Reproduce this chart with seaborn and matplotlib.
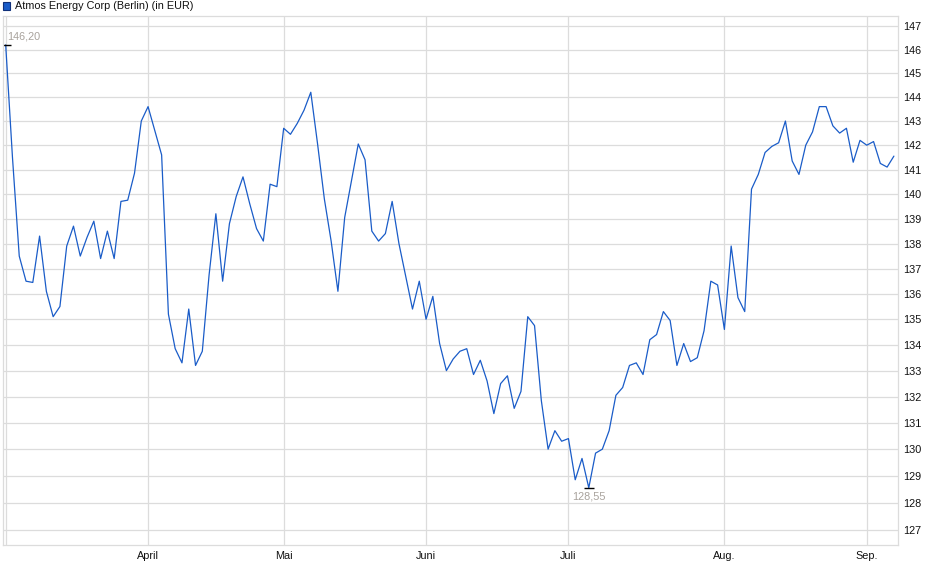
import numpy as np
import pandas as pd
import matplotlib
matplotlib.use("Agg")
import matplotlib.pyplot as plt
from matplotlib.patches import Rectangle
from matplotlib.ticker import NullLocator, FixedLocator
import seaborn as sbn

# Daily closing prices (EUR), Börse Berlin, 3 Mar - 5 Sep 2025
prices = [
    146.20, 141.5, 137.5, 136.5, 136.45, 138.3, 136.1, 135.1, 135.5, 137.9,
    138.7, 137.5, 138.25, 138.9, 137.4, 138.5, 137.4, 139.7, 139.75, 140.85,
    143.0, 143.6, 142.6, 141.6, 135.2, 133.85, 133.3, 135.4, 133.2, 133.75,
    136.75, 139.2, 136.5, 138.8, 139.9, 140.7, 139.6, 138.6, 138.1, 140.4,
    140.3, 142.7, 142.45, 142.9, 143.45, 144.2, 142.05, 139.8, 138.1, 136.1,
    139.05, 140.55, 142.05, 141.4, 138.5, 138.1, 138.4, 139.7, 138.0, 136.7,
    135.4, 136.5, 135.0, 135.9, 134.05, 133.0, 133.45, 133.75, 133.85, 132.85,
    133.4, 132.6, 131.35, 132.5, 132.8, 131.55, 132.2, 135.1, 134.75, 131.85,
    130.0, 130.7, 130.3, 130.4, 128.85, 129.65, 128.55, 129.85, 130.0, 130.7,
    132.05, 132.35, 133.2, 133.3, 132.85, 134.2, 134.4, 135.3, 134.95, 133.2,
    134.05, 133.35, 133.5, 134.55, 136.5, 136.35, 134.6, 137.9, 135.85, 135.3,
    140.2, 140.8, 141.7, 141.95, 142.1, 143.0, 141.35, 140.8, 142.0, 142.55,
    143.6, 143.6, 142.8, 142.5, 142.7, 141.3, 142.2, 142.0, 142.15, 141.25,
    141.1, 141.55,
]
holidays = ["2025-04-18", "2025-04-21", "2025-05-01"]
month_names = {3: "", 4: "April", 5: "Mai", 6: "Juni", 7: "Juli", 8: "Aug.", 9: "Sep."}
y_ticks = list(range(127, 148))
title = "Atmos Energy Corp (Berlin) (in EUR)"

dates = pd.bdate_range("2025-03-03", "2025-09-05")
dates = dates[~dates.isin(pd.to_datetime(holidays))]
df = pd.DataFrame({"date": dates, "price": prices})
df["pos"] = np.arange(len(df))

# first trading day of every month -> tick
month_starts = df.groupby(df["date"].dt.month)["pos"].min()

sbn.set_style("white")
plt.rcParams["font.family"] = ["Liberation Sans", "DejaVu Sans"]

line_col = "#1a5cc8"
grid_col = "#dcdcdc"
fs = 7.8

fig = plt.figure(figsize=(9.4, 5.79), dpi=100)
ax = fig.add_axes([2.7 / 940, 33.7 / 579, 895.6 / 940, 529.3 / 579])

sbn.lineplot(data=df, x="pos", y="price", ax=ax, color=line_col, linewidth=0.9)

ax.set_yscale("log")
ax.set_ylim(126.42, 147.43)
ax.set_xlim(-0.44, 131.65)
ax.yaxis.set_major_locator(FixedLocator(y_ticks))
ax.yaxis.set_minor_locator(NullLocator())
ax.set_yticklabels([str(t) for t in y_ticks])
ax.yaxis.tick_right()
ax.set_xticks(month_starts.values)
ax.set_xticklabels([month_names[m] for m in month_starts.index])
ax.xaxis.set_minor_locator(NullLocator())
ax.set_xlabel("")
ax.set_ylabel("")

ax.grid(True, color=grid_col, linewidth=0.9)
ax.set_axisbelow(True)
for sp in ax.spines.values():
    sp.set_color(grid_col)
    sp.set_linewidth(0.9)
ax.tick_params(axis="x", length=2.5, width=0.8, color="#c8c8c8", pad=1.8,
               labelsize=fs, labelcolor="#111111")
ax.tick_params(axis="y", length=0, pad=3.2, labelsize=fs, labelcolor="#111111",
               right=True, left=False)

# max / min markers
fmt = lambda v: f"{v:.2f}".replace(".", ",")
i_max = int(np.argmax(prices))
i_min = int(np.argmin(prices))
ax.plot([i_max], [prices[i_max]], marker="_", markersize=7, color="black", mew=1)
ax.plot([i_min], [prices[i_min]], marker="_", markersize=7, color="black", mew=1)
ax.annotate(fmt(prices[i_max]), (i_max, prices[i_max]), xytext=(1.2, 2.5),
            textcoords="offset points", ha="left", va="bottom",
            fontsize=fs, color="#a8a29c")
ax.annotate(fmt(prices[i_min]), (i_min, prices[i_min]), xytext=(0, -2.5),
            textcoords="offset points", ha="center", va="top",
            fontsize=fs, color="#a8a29c")

# legend box at top left
fig.patches.append(Rectangle((3.3 / 940, 1 - 9.8 / 579), 7 / 940, 7.5 / 579,
                             transform=fig.transFigure, facecolor=line_col,
                             edgecolor="#10307a", linewidth=0.8))
fig.text(15 / 940, 1 - 6 / 579, title, fontsize=fs, color="#111111",
         ha="left", va="center")

fig.savefig("out.png", dpi=100)
